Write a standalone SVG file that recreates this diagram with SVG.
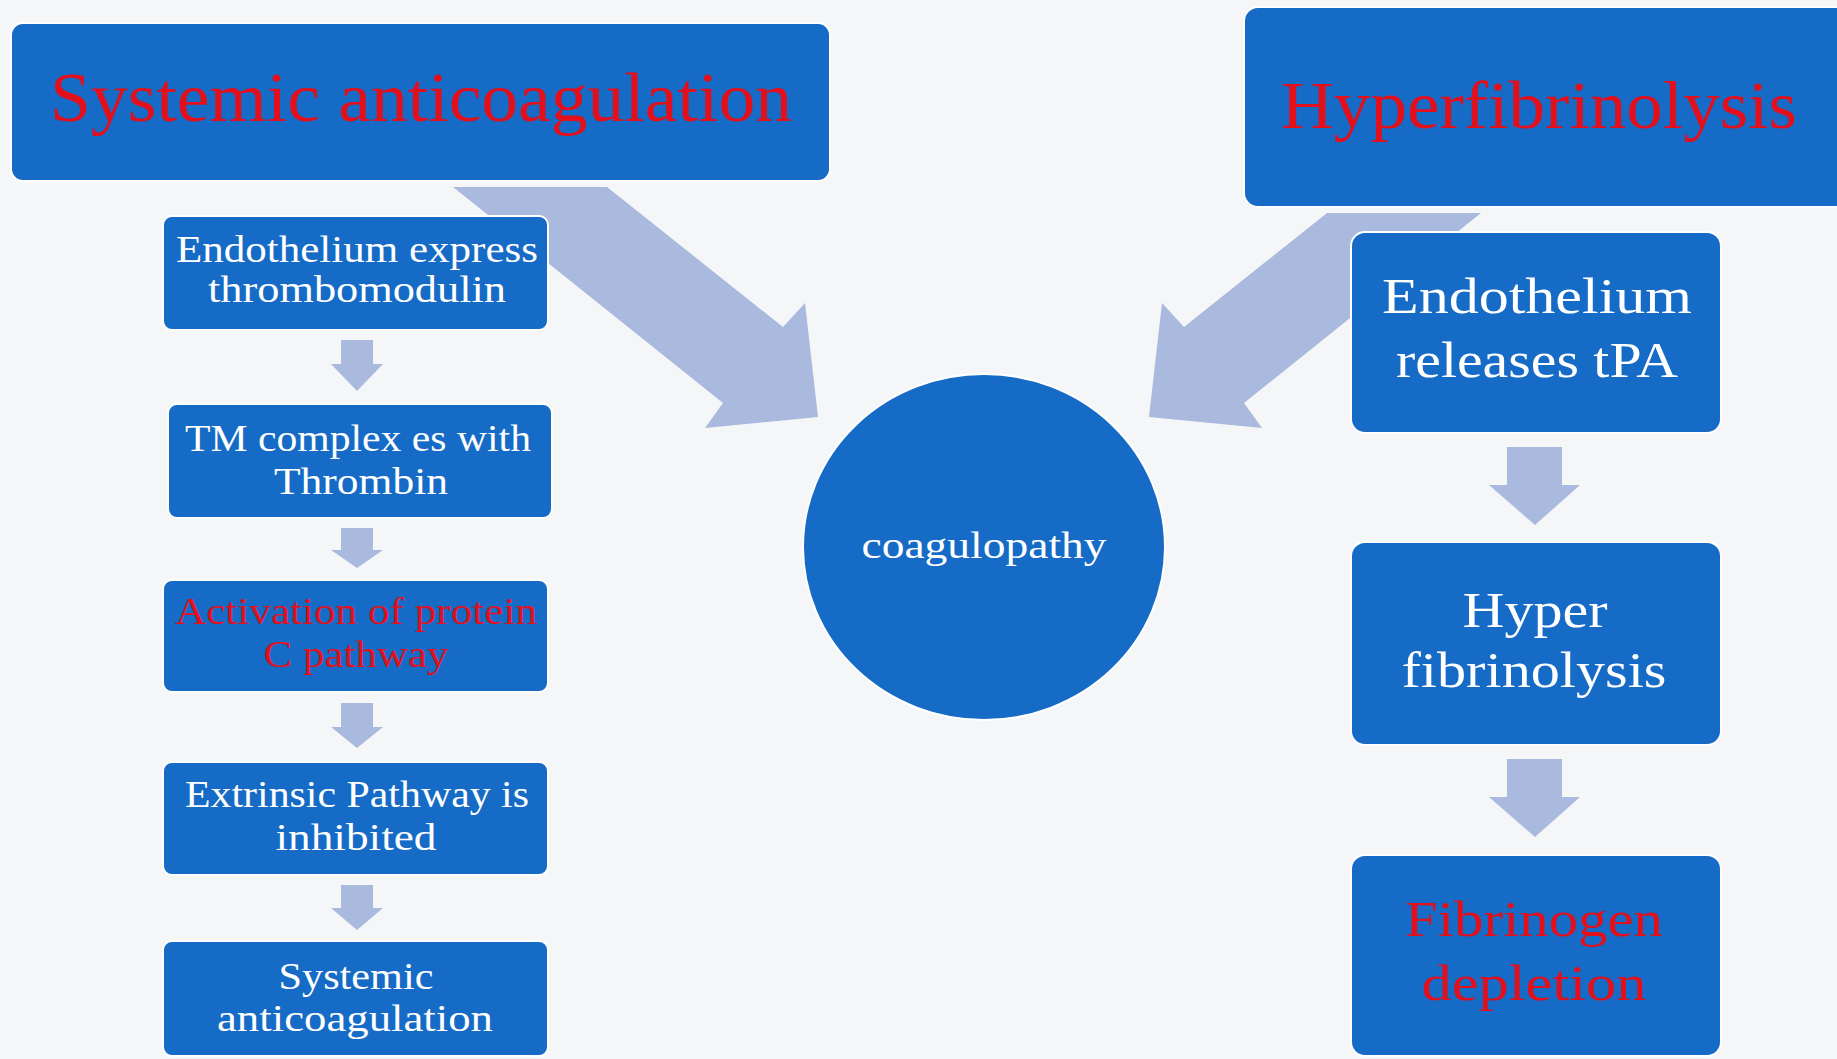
<svg xmlns="http://www.w3.org/2000/svg" width="1837" height="1059" viewBox="0 0 1837 1059">
<style>
.bg{fill:#f5f6f7}
.box{fill:#156bc6;stroke:#ffffff;stroke-width:2}
.arr{fill:#aab9de}
.t{font-family:"Liberation Serif","Times New Roman",serif;text-anchor:middle}
.w{fill:#ffffff}
.r{fill:#e3101c}
.s38{font-size:38px}
.s50{font-size:50px}
</style>
<rect class="bg" x="0" y="0" width="1837" height="1059"/>

<g id="connectors">
  <polygon id="big-left" class="arr" points="453,187 607,187 783,327 805,303 818,417 705,428 723,403"/>
  <polygon id="big-right" class="arr" points="1327,213 1481,213 1244,403 1262,428 1149,417 1162,303 1184,327"/>
  <polygon id="a1" class="arr" points="341,340 373,340 373,364 383,364 357,391 331,364 341,364"/>
  <polygon id="a2" class="arr" points="341,528 373,528 373,550 383,550 357,568 331,550 341,550"/>
  <polygon id="a3" class="arr" points="341,703 373,703 373,727 383,727 357,748 331,727 341,727"/>
  <polygon id="a4" class="arr" points="341,885 373,885 373,908 383,908 357,930 331,908 341,908"/>
  <polygon id="r1" class="arr" points="1507,447 1562,447 1562,485 1580,485 1535,525 1489,485 1507,485"/>
  <polygon id="r2" class="arr" points="1507,759 1562,759 1562,797 1580,797 1535,837 1489,797 1507,797"/>
</g>

<g id="node-systemic-title">
  <rect class="box" x="11" y="23" width="819" height="158" rx="12"/>
  <text class="t r" x="421" y="121" font-size="70" textLength="742" lengthAdjust="spacingAndGlyphs">Systemic anticoagulation</text>
</g>

<g id="node-hyperfib-title">
  <rect class="box" x="1244" y="7" width="612" height="200" rx="14"/>
  <text class="t r" x="1539" y="128" font-size="68" textLength="516" lengthAdjust="spacingAndGlyphs">Hyperfibrinolysis</text>
</g>

<g id="node-endothelium-tm">
  <rect class="box" x="163" y="216" width="385" height="114" rx="9"/>
  <text class="t w s38" x="357" y="262" textLength="362" lengthAdjust="spacingAndGlyphs">Endothelium express</text>
  <text class="t w s38" x="357" y="302" textLength="298" lengthAdjust="spacingAndGlyphs">thrombomodulin</text>
</g>

<g id="node-tm-complex">
  <rect class="box" x="168" y="404" width="384" height="114" rx="9"/>
  <text class="t w s38" x="358" y="451" textLength="346" lengthAdjust="spacingAndGlyphs">TM complex es with</text>
  <text class="t w s38" x="361" y="494" textLength="174" lengthAdjust="spacingAndGlyphs">Thrombin</text>
</g>

<g id="node-protein-c">
  <rect class="box" x="163" y="580" width="385" height="112" rx="9"/>
  <text class="t r s38" x="356" y="624" textLength="362" lengthAdjust="spacingAndGlyphs">Activation of protein</text>
  <text class="t r s38" x="356" y="667" textLength="185" lengthAdjust="spacingAndGlyphs">C pathway</text>
</g>

<g id="node-extrinsic">
  <rect class="box" x="163" y="762" width="385" height="113" rx="9"/>
  <text class="t w s38" x="357" y="807" textLength="344" lengthAdjust="spacingAndGlyphs">Extrinsic Pathway is</text>
  <text class="t w s38" x="356" y="850" textLength="161" lengthAdjust="spacingAndGlyphs">inhibited</text>
</g>

<g id="node-systemic">
  <rect class="box" x="163" y="941" width="385" height="115" rx="9"/>
  <text class="t w s38" x="356" y="989" textLength="155" lengthAdjust="spacingAndGlyphs">Systemic</text>
  <text class="t w s38" x="355" y="1031" textLength="276" lengthAdjust="spacingAndGlyphs">anticoagulation</text>
</g>

<g id="node-coagulopathy">
  <ellipse class="box" cx="984" cy="547" rx="181" ry="173"/>
  <text class="t w" x="984" y="558" font-size="37" textLength="245" lengthAdjust="spacingAndGlyphs">coagulopathy</text>
</g>

<g id="node-tpa">
  <rect class="box" x="1351" y="232" width="370" height="201" rx="14"/>
  <text class="t w s50" x="1537" y="313" textLength="310" lengthAdjust="spacingAndGlyphs">Endothelium</text>
  <text class="t w s50" x="1537" y="377" textLength="282" lengthAdjust="spacingAndGlyphs">releases tPA</text>
</g>

<g id="node-hyperfib">
  <rect class="box" x="1351" y="542" width="370" height="203" rx="14"/>
  <text class="t w s50" x="1535" y="627" textLength="145" lengthAdjust="spacingAndGlyphs">Hyper</text>
  <text class="t w s50" x="1534" y="687" textLength="265" lengthAdjust="spacingAndGlyphs">fibrinolysis</text>
</g>

<g id="node-fibrinogen">
  <rect class="box" x="1351" y="855" width="370" height="201" rx="14"/>
  <text class="t r s50" x="1534" y="936" textLength="258" lengthAdjust="spacingAndGlyphs">Fibrinogen</text>
  <text class="t r s50" x="1534" y="1000" textLength="225" lengthAdjust="spacingAndGlyphs">depletion</text>
</g>
</svg>
